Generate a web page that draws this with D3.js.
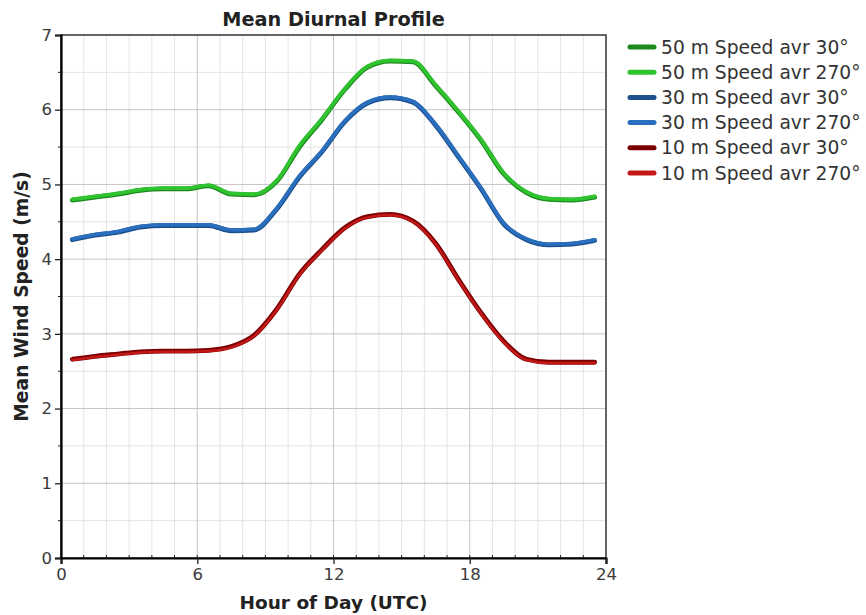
<!DOCTYPE html>
<html>
<head>
<meta charset="utf-8">
<script src="https://cdn.jsdelivr.net/npm/d3@7"></script>
<style>
  html, body { margin: 0; padding: 0; background: #fff; }
  svg { display: block; }
  text { font-family: "DejaVu Sans", Verdana, sans-serif; }
</style>
</head>
<body>
<svg id="chart" width="866" height="615"></svg>
<script>
// ─── Data (hourly means) ─────────────────────────────────────────
const hours = [0.5, 1.5, 2.5, 3.5, 4.5, 5.5, 6.5, 7.5, 8.5, 9.5, 10.5, 11.5,
               12.5, 13.5, 14.5, 15.5, 16.5, 17.5, 18.5, 19.5, 20.5, 21.5, 22.5, 23.5];

const speed50_30  = [4.79, 4.83, 4.87, 4.92, 4.94, 4.94, 4.98, 4.87, 4.86, 5.04, 5.50, 5.87,
                     6.27, 6.57, 6.65, 6.64, 6.32, 5.97, 5.59, 5.14, 4.89, 4.80, 4.79, 4.83];
const speed50_270 = [4.80, 4.84, 4.88, 4.93, 4.95, 4.95, 4.99, 4.88, 4.87, 5.05, 5.52, 5.88,
                     6.28, 6.58, 6.66, 6.65, 6.33, 5.98, 5.60, 5.15, 4.90, 4.81, 4.80, 4.84];
const speed30_30  = [4.26, 4.32, 4.36, 4.43, 4.45, 4.45, 4.45, 4.38, 4.39, 4.67, 5.10, 5.44,
                     5.84, 6.09, 6.16, 6.10, 5.79, 5.37, 4.94, 4.47, 4.26, 4.19, 4.20, 4.25];
const speed30_270 = [4.27, 4.33, 4.37, 4.44, 4.46, 4.46, 4.46, 4.39, 4.40, 4.68, 5.11, 5.45,
                     5.85, 6.10, 6.17, 6.11, 5.80, 5.38, 4.95, 4.48, 4.27, 4.20, 4.21, 4.26];
const speed10_30  = [2.66, 2.70, 2.73, 2.76, 2.77, 2.77, 2.78, 2.83, 2.98, 3.33, 3.80, 4.13,
                     4.42, 4.57, 4.60, 4.51, 4.21, 3.73, 3.28, 2.90, 2.66, 2.62, 2.62, 2.62];
const speed10_270 = [2.65, 2.69, 2.72, 2.75, 2.76, 2.76, 2.77, 2.82, 2.97, 3.32, 3.79, 4.12,
                     4.41, 4.56, 4.59, 4.50, 4.20, 3.72, 3.27, 2.89, 2.65, 2.61, 2.61, 2.61];

const seriesNames = ['50 m Speed avr 30°', '50 m Speed avr 270°', '30 m Speed avr 30°',
                     '30 m Speed avr 270°', '10 m Speed avr 30°', '10 m Speed avr 270°'];
const seriesValues = [speed50_30, speed50_270, speed30_30, speed30_270, speed10_30, speed10_270];
const seriesColors = ['#1d8a1d', '#2fc42f', '#1d4f8e', '#2a6fbe', '#7c0000', '#c41818'];

const xTicks = [0, 6, 12, 18, 24];
const yTicks = [0, 1, 2, 3, 4, 5, 6, 7];

// ─── Layout ──────────────────────────────────────────────────────
const margin = { top: 35, right: 260, bottom: 57, left: 61 };
const svg = d3.select('#chart');
const width = +svg.attr('width');
const height = +svg.attr('height');
const w = width - margin.left - margin.right;
const h = height - margin.top - margin.bottom;

const x = d3.scaleLinear().domain([0, 24]).range([0, w]);
const y = d3.scaleLinear().domain([0, 7]).range([h, 0]);

const g = svg.append('g').attr('transform', `translate(${margin.left},${margin.top})`);

// ── Grid ────────────────────────────────────────────────────────
const minorX = d3.range(1, 24).filter(v => v % 6 !== 0);
const minorY = d3.range(0.5, 7, 1);

g.append('g').selectAll('line')
    .data(minorX)
    .join('line')
    .attr('x1', d => x(d)).attr('x2', d => x(d))
    .attr('y1', 0).attr('y2', h)
    .attr('stroke', '#e4e4e4');

g.append('g').selectAll('line')
    .data(minorY)
    .join('line')
    .attr('x1', 0).attr('x2', w)
    .attr('y1', d => y(d)).attr('y2', d => y(d))
    .attr('stroke', '#e4e4e4');

g.append('g').selectAll('line')
    .data(xTicks.slice(1, -1))
    .join('line')
    .attr('x1', d => x(d)).attr('x2', d => x(d))
    .attr('y1', 0).attr('y2', h)
    .attr('stroke', '#c4c4c4');

g.append('g').selectAll('line')
    .data(yTicks.slice(1, -1))
    .join('line')
    .attr('x1', 0).attr('x2', w)
    .attr('y1', d => y(d)).attr('y2', d => y(d))
    .attr('stroke', '#c4c4c4');

// frame (top/right thinner)
g.append('rect')
    .attr('x', 0).attr('y', 0)
    .attr('width', w).attr('height', h)
    .attr('fill', 'none')
    .attr('stroke', '#333')
    .attr('stroke-width', 1.5);

// ── Axes ────────────────────────────────────────────────────────
const xAxis = g.append('g')
    .attr('transform', `translate(0,${h})`)
    .call(d3.axisBottom(x).tickValues(xTicks).tickSize(6).tickPadding(4).tickFormat(d3.format('d')));
const yAxis = g.append('g')
    .call(d3.axisLeft(y).tickValues(yTicks).tickSize(6).tickPadding(3).tickFormat(d3.format('d')));

[xAxis, yAxis].forEach(ax => {
    ax.select('.domain').attr('stroke', '#000').attr('stroke-width', 2.2);
    ax.selectAll('.tick line').attr('stroke', '#222').attr('stroke-width', 1.3);
    ax.selectAll('.tick text')
        .attr('fill', '#3a3a3a')
        .attr('font-size', 16.5)
        .attr('font-family', '"DejaVu Sans", Verdana, sans-serif');
});

// minor ticks
g.append('g').selectAll('line')
    .data(d3.range(1, 24))
    .join('line')
    .attr('x1', d => x(d)).attr('x2', d => x(d))
    .attr('y1', h).attr('y2', h - 3)
    .attr('stroke', '#222');
g.append('g').selectAll('line')
    .data(minorY)
    .join('line')
    .attr('x1', -3).attr('x2', 0)
    .attr('y1', d => y(d)).attr('y2', d => y(d))
    .attr('stroke', '#222');

// ── Lines ───────────────────────────────────────────────────────
const line = d3.line()
    .x((d, i) => x(hours[i]))
    .y(d => y(d))
    .curve(d3.curveMonotoneX);

g.append('g').selectAll('path')
    .data(d3.range(seriesValues.length))
    .join('path')
    .attr('d', i => line(seriesValues[i]))
    .attr('fill', 'none')
    .attr('stroke', i => seriesColors[i])
    .attr('stroke-width', i => (i % 2 === 0 ? 4.8 : (i === 5 ? 2.4 : 3.6)))
    .attr('stroke-linejoin', 'round')
    .attr('stroke-linecap', 'round');

// ── Titles ──────────────────────────────────────────────────────
svg.append('text')
    .attr('x', margin.left + w / 2)
    .attr('y', 26)
    .attr('text-anchor', 'middle')
    .attr('font-size', 19.3)
    .attr('font-weight', 'bold')
    .attr('fill', '#222')
    .text('Mean Diurnal Profile');

svg.append('text')
    .attr('x', margin.left + w / 2)
    .attr('y', 609)
    .attr('text-anchor', 'middle')
    .attr('font-size', 18.5)
    .attr('font-weight', 'bold')
    .attr('fill', '#222')
    .text('Hour of Day (UTC)');

svg.append('text')
    .attr('transform', `translate(28,${margin.top + h / 2}) rotate(-90)`)
    .attr('text-anchor', 'middle')
    .attr('font-size', 18.7)
    .attr('font-weight', 'bold')
    .attr('fill', '#222')
    .text('Mean Wind Speed (m/s)');

// ── Legend ──────────────────────────────────────────────────────
const legend = svg.append('g').attr('transform', 'translate(628,47)');
const rows = legend.selectAll('g')
    .data(seriesNames)
    .join('g')
    .attr('transform', (d, i) => `translate(0,${i * 25.2})`);
rows.append('line')
    .attr('x1', 2).attr('x2', 26)
    .attr('stroke', (d, i) => seriesColors[i])
    .attr('stroke-width', 5)
    .attr('stroke-linecap', 'round');
rows.append('text')
    .attr('x', 33)
    .attr('dy', '0.35em')
    .attr('font-size', 18.7)
    .attr('fill', '#333')
    .text(d => d);
</script>
</body>
</html>
